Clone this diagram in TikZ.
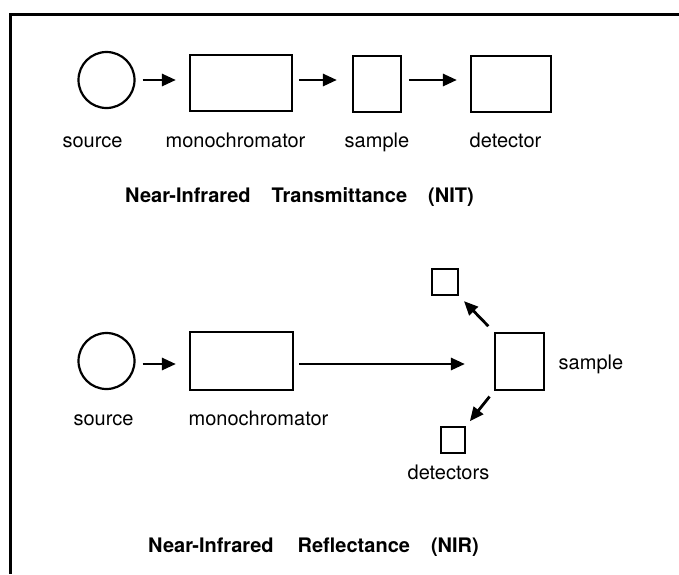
\documentclass[tikz,border=0pt]{standalone}
\usepackage{fontspec}
\setmainfont{TeX Gyre Heros}
\usetikzlibrary{arrows.meta}
\begin{document}
\begin{tikzpicture}[x=1pt,y=-1pt,
  box/.style={draw, line width=2.2pt, inner sep=0pt, rectangle},
  srccirc/.style={draw, circle, line width=2.2pt, inner sep=0pt, minimum size=56pt},
  arr/.style={line width=2.8pt, -{Triangle[length=14pt,width=12pt]}},
  lbl/.style={font=\fontsize{20}{24}\selectfont, inner sep=0pt, anchor=base},
  ttl/.style={font=\fontsize{20}{24}\selectfont\bfseries, inner sep=0pt, anchor=base west}]
\useasboundingbox (0,0) rectangle (679,574);
% frame
\coordinate (fTL) at (10,14);
\coordinate (fTR) at (679,14);
\coordinate (fBL) at (10,574);
\draw[line width=3pt] (fTR) -- (fTL) -- (fBL);

% ---------- NIT ----------
\node[srccirc] (src1) at (106.5,80) {};
\node[box, minimum width=102pt, minimum height=56pt] (mono1) at (241,83) {};
\node[box, minimum width=48pt, minimum height=56pt] (samp1) at (377,84) {};
\node[box, minimum width=80pt, minimum height=56pt] (det1) at (511,84) {};
\draw[arr, shorten <=7pt, shorten >=13pt] (src1.east) -- (src1.east -| mono1.west);
\draw[arr, shorten <=6pt, shorten >=15pt] (mono1.east |- src1.east) -- (samp1.west |- src1.east);
\draw[arr, shorten <=7pt, shorten >=13pt] (samp1.east |- src1.east) -- (det1.west |- src1.east);
\node[lbl] (l1src) at (92.5,147) {source};
\node[lbl] (l1mono) at (235.5,147) {monochromator};
\node[lbl] (l1samp) at (377,147) {sample};
\node[lbl] (l1det) at (505.5,147) {detector};
\node[ttl] (t1) at (125,202) {Near-Infrared\hspace{21pt}Transmittance\hspace{21pt}(NIT)};

% ---------- NIR ----------
\node[srccirc] (src2) at (106.5,361) {};
\node[box, minimum width=103pt, minimum height=58pt] (mono2) at (241.5,361) {};
\node[box, minimum width=49pt, minimum height=57pt] (samp2) at (519.5,361.5) {};
\node[box, minimum width=26pt, minimum height=26pt] (detU) at (445,282) {};
\node[box, minimum width=24pt, minimum height=26pt] (detL) at (453,440) {};
\draw[arr, shorten <=7pt, shorten >=13pt] (src2.east |- 0,364) coordinate (a2s) -- (a2s -| mono2.west);
\draw[arr, shorten <=5pt, shorten >=29pt] (mono2.east |- a2s) -- (samp2.west |- a2s);
\draw[arr, shorten <=8pt, shorten >=7pt] (samp2.north west) -- (detU.south east);
\draw[arr, shorten <=7pt, shorten >=6pt] (samp2.south west) -- (detL.north east);
\node[lbl] (l2src) at (103.5,425) {source};
\node[lbl] (l2mono) at (258.5,425) {monochromator};
\node[lbl] (l2samp) at (591,369) {sample};
\node[lbl] (l2det) at (448.5,479) {detectors};
\node[ttl] (t2) at (148,552) {Near-Infrared\hspace{24pt}Reflectance\hspace{21pt}(NIR)};
\end{tikzpicture}
\end{document}
